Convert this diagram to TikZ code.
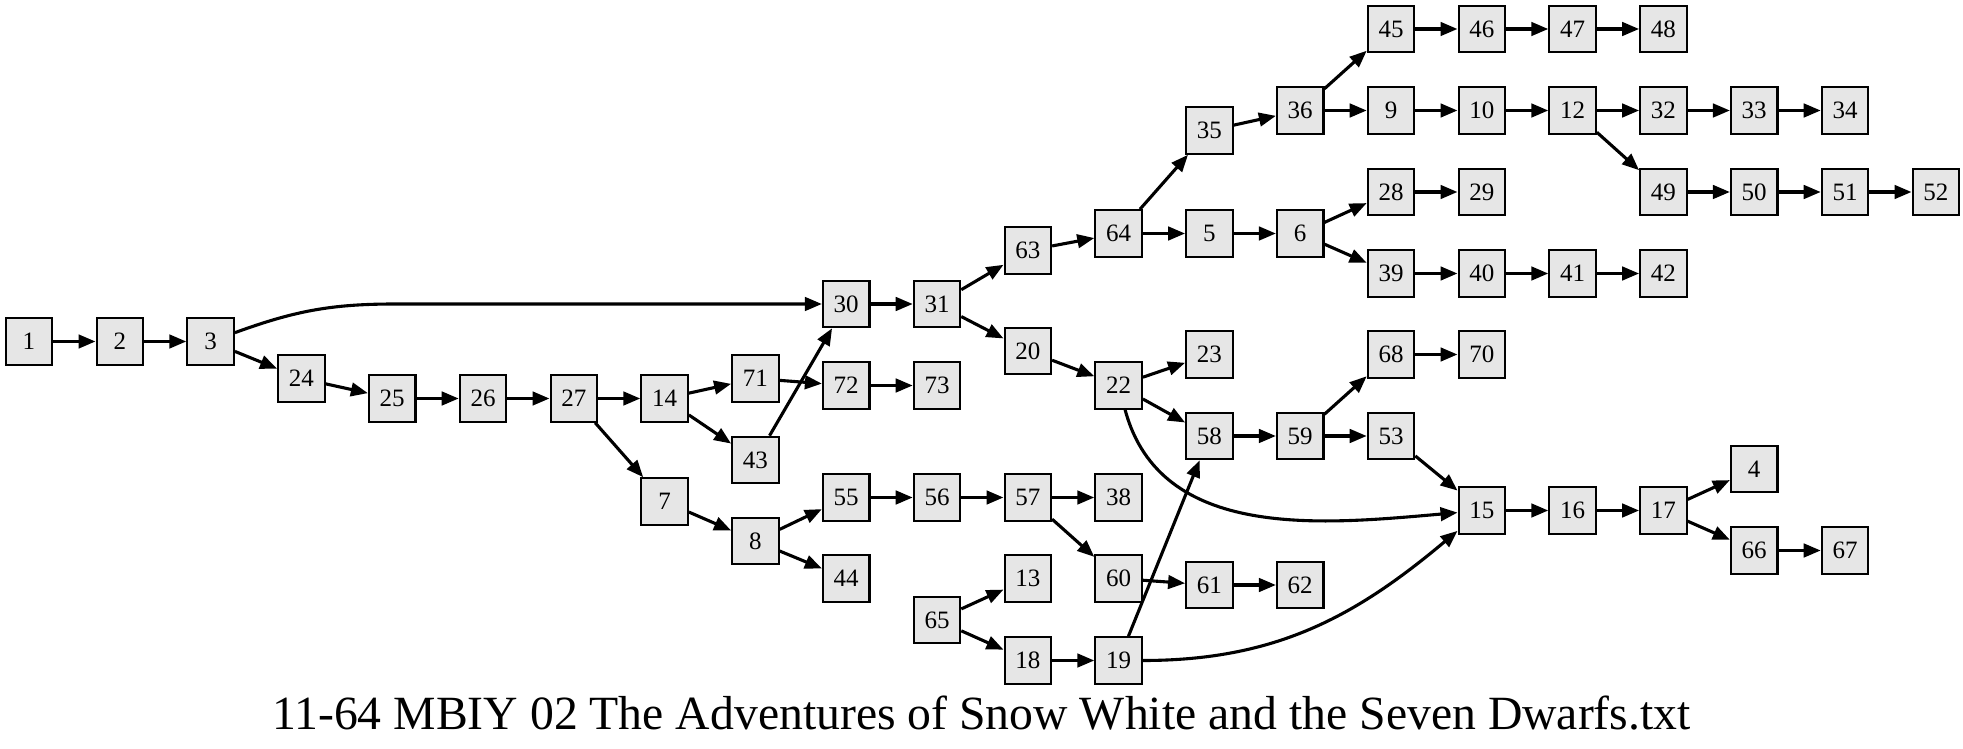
\documentclass[tikz,border=0pt]{standalone}
\usepackage{fontspec}
\setmainfont{Liberation Serif}
\usetikzlibrary{arrows.meta}
\definecolor{nodefill}{HTML}{E6E6E6}
\tikzset{
  box/.style={draw=black, fill=nodefill, line width=2.1pt, minimum width=46.5pt, minimum height=46.5pt, inner sep=0pt, font=\fontsize{25}{25}\selectfont},
  edge/.style={line width=3.1pt, -{Triangle[length=17pt,width=13.5pt]}},
  titletext/.style={font=\fontsize{47.7}{47.7}\selectfont, inner sep=0pt, anchor=base}
}
\newcommand\mynode[3]{\node[box] (n#1) at ({29+90.8*#2},{748-#3}) {#1};}
\begin{document}
\begin{tikzpicture}[x=1pt,y=1pt]
\useasboundingbox (0,0) rectangle (1963,748);
\mynode{1}{0}{341.5}
\mynode{2}{1}{341.5}
\mynode{3}{2}{341.5}
\mynode{24}{3}{378.5}
\mynode{25}{4}{398.5}
\mynode{26}{5}{398.5}
\mynode{27}{6}{398.5}
\mynode{14}{7}{398.5}
\mynode{7}{7}{501.5}
\mynode{71}{8}{378.5}
\mynode{43}{8}{460}
\mynode{8}{8}{541}
\mynode{30}{9}{304}
\mynode{72}{9}{385.5}
\mynode{55}{9}{497.5}
\mynode{44}{9}{578.5}
\mynode{31}{10}{304}
\mynode{73}{10}{385.5}
\mynode{56}{10}{497.5}
\mynode{65}{10}{620}
\mynode{63}{11}{250.5}
\mynode{20}{11}{351}
\mynode{57}{11}{497.5}
\mynode{13}{11}{578.5}
\mynode{18}{11}{660.5}
\mynode{64}{12}{233.5}
\mynode{22}{12}{385.5}
\mynode{38}{12}{497.5}
\mynode{60}{12}{578.5}
\mynode{19}{12}{660.5}
\mynode{35}{13}{130.5}
\mynode{5}{13}{233.5}
\mynode{23}{13}{354.5}
\mynode{58}{13}{436}
\mynode{61}{13}{585}
\mynode{36}{14}{110.5}
\mynode{6}{14}{233.5}
\mynode{59}{14}{436}
\mynode{62}{14}{585}
\mynode{45}{15}{29}
\mynode{9}{15}{110.5}
\mynode{28}{15}{192}
\mynode{39}{15}{273.5}
\mynode{68}{15}{354.5}
\mynode{53}{15}{436}
\mynode{46}{16}{29}
\mynode{10}{16}{110.5}
\mynode{29}{16}{192}
\mynode{40}{16}{273.5}
\mynode{70}{16}{354.5}
\mynode{15}{16}{510.5}
\mynode{47}{17}{29}
\mynode{12}{17}{110.5}
\mynode{41}{17}{273.5}
\mynode{16}{17}{510.5}
\mynode{48}{18}{29}
\mynode{32}{18}{110.5}
\mynode{49}{18}{192}
\mynode{42}{18}{273.5}
\mynode{17}{18}{510.5}
\mynode{33}{19}{110.5}
\mynode{50}{19}{192}
\mynode{4}{19}{469}
\mynode{66}{19}{550.5}
\mynode{34}{20}{110.5}
\mynode{51}{20}{192}
\mynode{67}{20}{550.5}
\mynode{52}{21}{192}
\coordinate (c330) at (395,444);
\node[titletext] (title) at (981.5,19) {11-64 MBIY 02 The Adventures of Snow White and the Seven Dwarfs.txt};
% edges
\draw[edge] (n1) -- (n2);
\draw[edge] (n2) -- (n3);
\draw[edge] (n3) to[out=20,in=180] (c330) -- (n30);
\draw[edge] (n3) -- (n24);
\draw[edge] (n24) -- (n25);
\draw[edge] (n25) -- (n26);
\draw[edge] (n26) -- (n27);
\draw[edge] (n27) -- (n14);
\draw[edge] (n27) -- (n7);
\draw[edge] (n14) -- (n71);
\draw[edge] (n14) -- (n43);
\draw[edge] (n71) -- (n72);
\draw[edge] (n43) -- (n30);
\draw[edge] (n72) -- (n73);
\draw[edge] (n7) -- (n8);
\draw[edge] (n8) -- (n55);
\draw[edge] (n8) -- (n44);
\draw[edge] (n30) -- (n31);
\draw[edge] (n31) -- (n63);
\draw[edge] (n31) -- (n20);
\draw[edge] (n63) -- (n64);
\draw[edge] (n64) -- (n35);
\draw[edge] (n64) -- (n5);
\draw[edge] (n35) -- (n36);
\draw[edge] (n36) -- (n45);
\draw[edge] (n36) -- (n9);
\draw[edge] (n45) -- (n46);
\draw[edge] (n46) -- (n47);
\draw[edge] (n47) -- (n48);
\draw[edge] (n9) -- (n10);
\draw[edge] (n10) -- (n12);
\draw[edge] (n12) -- (n32);
\draw[edge] (n12) -- (n49);
\draw[edge] (n32) -- (n33);
\draw[edge] (n33) -- (n34);
\draw[edge] (n49) -- (n50);
\draw[edge] (n50) -- (n51);
\draw[edge] (n51) -- (n52);
\draw[edge] (n5) -- (n6);
\draw[edge] (n6) -- (n28);
\draw[edge] (n6) -- (n39);
\draw[edge] (n28) -- (n29);
\draw[edge] (n39) -- (n40);
\draw[edge] (n40) -- (n41);
\draw[edge] (n41) -- (n42);
\draw[edge] (n20) -- (n22);
\draw[edge] (n22) -- (n23);
\draw[edge] (n22) -- (n58);
\draw[edge] (n22) to[out=-75,in=185] (n15);
\draw[edge] (n58) -- (n59);
\draw[edge] (n59) -- (n68);
\draw[edge] (n59) -- (n53);
\draw[edge] (n68) -- (n70);
\draw[edge] (n53) -- (n15);
\draw[edge] (n15) -- (n16);
\draw[edge] (n16) -- (n17);
\draw[edge] (n17) -- (n4);
\draw[edge] (n17) -- (n66);
\draw[edge] (n66) -- (n67);
\draw[edge] (n55) -- (n56);
\draw[edge] (n56) -- (n57);
\draw[edge] (n57) -- (n38);
\draw[edge] (n57) -- (n60);
\draw[edge] (n60) -- (n61);
\draw[edge] (n61) -- (n62);
\draw[edge] (n65) -- (n13);
\draw[edge] (n65) -- (n18);
\draw[edge] (n18) -- (n19);
\draw[edge] (n19) -- (n58);
\draw[edge] (n19) to[out=0,in=220] (n15);
\end{tikzpicture}
\end{document}
